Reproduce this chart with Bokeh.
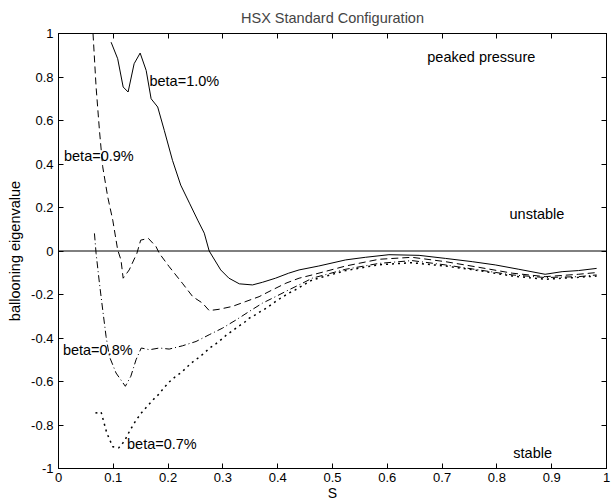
from bokeh.plotting import figure
from bokeh.models import (Span, Label, LinearAxis, FixedTicker, CustomJSTickFormatter, Range1d,
                          CustomLabelingPolicy)
from bokeh.embed import file_html
from bokeh.resources import INLINE

# beta = 1.0 % (solid)
s10_x = [0.096, 0.108, 0.118, 0.127, 0.138, 0.149, 0.160, 0.169, 0.181, 0.193, 0.208, 0.223, 0.239,
         0.254, 0.266, 0.275, 0.296, 0.311, 0.330, 0.354, 0.372, 0.396, 0.420, 0.439, 0.475, 0.524,
         0.560, 0.603, 0.658, 0.706, 0.755, 0.797, 0.840, 0.888, 0.919, 0.949, 0.982]
s10_y = [0.96, 0.884, 0.754, 0.731, 0.861, 0.91, 0.83, 0.70, 0.662, 0.555, 0.417, 0.303, 0.22,
         0.142, 0.082, 0.0, -0.087, -0.125, -0.151, -0.156, -0.144, -0.125, -0.102, -0.087, -0.069, -0.041,
         -0.029, -0.017, -0.02, -0.034, -0.049, -0.064, -0.084, -0.107, -0.095, -0.09, -0.08]

# beta = 0.9 % (dashed)
s09_x = [0.063, 0.0686, 0.0747, 0.0807, 0.0898, 0.099, 0.108, 0.114, 0.118, 0.129, 0.143, 0.150, 0.164,
         0.178, 0.184, 0.202, 0.226, 0.245, 0.263, 0.275, 0.293, 0.317, 0.342, 0.366, 0.390, 0.415,
         0.439, 0.463, 0.524, 0.585, 0.645, 0.706, 0.767, 0.828, 0.888, 0.949, 0.982]
s09_y = [1.0, 0.754, 0.555, 0.387, 0.249, 0.142, 0.005, -0.041, -0.125, -0.087, -0.011, 0.05, 0.058,
         0.02, -0.011, -0.072, -0.148, -0.21, -0.24, -0.274, -0.268, -0.255, -0.232, -0.21, -0.179, -0.148,
         -0.125, -0.11, -0.069, -0.038, -0.029, -0.049, -0.075, -0.102, -0.118, -0.107, -0.099]

# beta = 0.8 % (dash-dot)
s08_x = [0.0656, 0.0686, 0.0747, 0.0807, 0.0868, 0.0929, 0.105, 0.122, 0.132, 0.1415, 0.151, 0.166,
         0.184, 0.202, 0.226, 0.251, 0.275, 0.299, 0.324, 0.348, 0.372, 0.396, 0.420, 0.439, 0.463,
         0.524, 0.585, 0.645, 0.706, 0.767, 0.828, 0.888, 0.949, 0.982]
s08_y = [0.081, -0.011, -0.148, -0.271, -0.393, -0.485, -0.561, -0.622, -0.576, -0.5, -0.446, -0.454,
         -0.446, -0.451, -0.436, -0.416, -0.385, -0.355, -0.317, -0.278, -0.24, -0.21, -0.179, -0.156, -0.125,
         -0.084, -0.057, -0.044, -0.064, -0.087, -0.11, -0.122, -0.118, -0.11]

# beta = 0.7 % (dotted)
s07_x = [0.0674, 0.0777, 0.088, 0.099, 0.11, 0.12, 0.1306, 0.1415, 0.152, 0.163, 0.173, 0.184, 0.193,
         0.203, 0.214, 0.2246, 0.2355, 0.246, 0.257, 0.266, 0.276, 0.287, 0.298, 0.307, 0.3175, 0.328,
         0.339, 0.348, 0.359, 0.369, 0.379, 0.39, 0.40, 0.41, 0.42, 0.432, 0.463, 0.524, 0.585, 0.645,
         0.706, 0.767, 0.828, 0.888, 0.949, 0.982]
s07_y = [-0.745, -0.74, -0.836, -0.9, -0.905, -0.875, -0.824, -0.778, -0.742, -0.711, -0.683, -0.656, -0.627,
         -0.6, -0.576, -0.558, -0.531, -0.508, -0.488, -0.469, -0.446, -0.427, -0.405, -0.385, -0.367, -0.347,
         -0.329, -0.309, -0.294, -0.278, -0.263, -0.243, -0.225, -0.21, -0.194, -0.179, -0.133, -0.09, -0.063, -0.054,
         -0.069, -0.09, -0.115, -0.13, -0.121, -0.115]

x_ticks = [0, 0.1, 0.2, 0.3, 0.4, 0.5, 0.6, 0.7, 0.8, 0.9, 1]
y_ticks = [-1, -0.8, -0.6, -0.4, -0.2, 0, 0.2, 0.4, 0.6, 0.8, 1]

FONT = "Liberation Sans"
TXT = "14.5px"

p = figure(width=613, height=503, output_backend="svg", toolbar_location=None,
           x_range=Range1d(0, 1), y_range=Range1d(-1, 1),
           title="HSX Standard Configuration",
           min_border_left=58, min_border_right=7, min_border_top=33, min_border_bottom=33)
p.background_fill_color = "white"
p.border_fill_color = "white"
p.outline_line_color = "black"
p.outline_line_width = 1
p.grid.visible = False

p.title.text_font = FONT
p.title.text_font_size = TXT
p.title.text_font_style = "normal"
p.title.align = "center"
p.title.offset = 0
p.title.standoff = 15

fmt = CustomJSTickFormatter(code="return String(Number(tick.toFixed(2)));")
no_labels = CustomLabelingPolicy(code="""
try { for (const i of Array.from(indices)) indices.unset(i) }
catch (e) { for (let i = 0; i < indices.size; i++) indices.set(i, false) }
return indices
""")

def style_axis(ax, ticks, show_labels):
    ax.ticker = FixedTicker(ticks=ticks)
    ax.formatter = fmt
    ax.axis_line_color = "black"
    ax.major_tick_line_color = "black"
    ax.major_tick_in = 5
    ax.major_tick_out = 0
    ax.minor_tick_line_color = None
    ax.major_label_text_font = FONT
    ax.major_label_text_font_size = "13px" if show_labels else "0px"
    ax.major_label_text_color = "black"
    ax.axis_label_text_font = FONT
    ax.axis_label_text_font_size = TXT
    ax.axis_label_text_font_style = "normal"
    ax.axis_label_text_color = "black"
    if not show_labels:
        ax.major_label_policy = no_labels
        ax.major_label_standoff = 0
        ax.axis_label_standoff = 0

style_axis(p.xaxis[0], x_ticks, True)
style_axis(p.yaxis[0], y_ticks, True)
p.xaxis[0].axis_label = "S"
p.xaxis[0].axis_label_text_font_size = "14px"
p.xaxis[0].major_label_standoff = 4
p.xaxis[0].axis_label_standoff = 0
p.yaxis[0].axis_label = "ballooning eigenvalue"
p.yaxis[0].major_label_standoff = 5
p.yaxis[0].axis_label_standoff = 5

top_ax = LinearAxis()
style_axis(top_ax, x_ticks, False)
p.add_layout(top_ax, "above")
right_ax = LinearAxis()
style_axis(right_ax, y_ticks, False)
p.add_layout(right_ax, "right")

p.add_layout(Span(location=0, dimension="width", line_color="black", line_width=1))

p.line(s10_x, s10_y, line_color="black", line_width=1)
p.line(s09_x, s09_y, line_color="black", line_width=1, line_dash="7 4")
p.line(s08_x, s08_y, line_color="black", line_width=1, line_dash="7 3 1 3")
p.line(s07_x, s07_y, line_color="black", line_width=1.5, line_dash="2 4")

labels = [
    ("beta=1.0%", 0.166, 0.78),
    ("beta=0.9%", 0.010, 0.437),
    ("beta=0.8%", 0.008, -0.454),
    ("beta=0.7%", 0.125, -0.886),
    ("peaked pressure", 0.673, 0.89),
    ("unstable", 0.823, 0.172),
    ("stable", 0.830, -0.931),
]
for t, lx, ly in labels:
    p.add_layout(Label(x=lx, y=ly, text=t, text_font=FONT, text_font_size=TXT,
                       text_color="black", text_baseline="middle", text_align="left"))

open("out.html", "w").write(file_html(p, INLINE))
